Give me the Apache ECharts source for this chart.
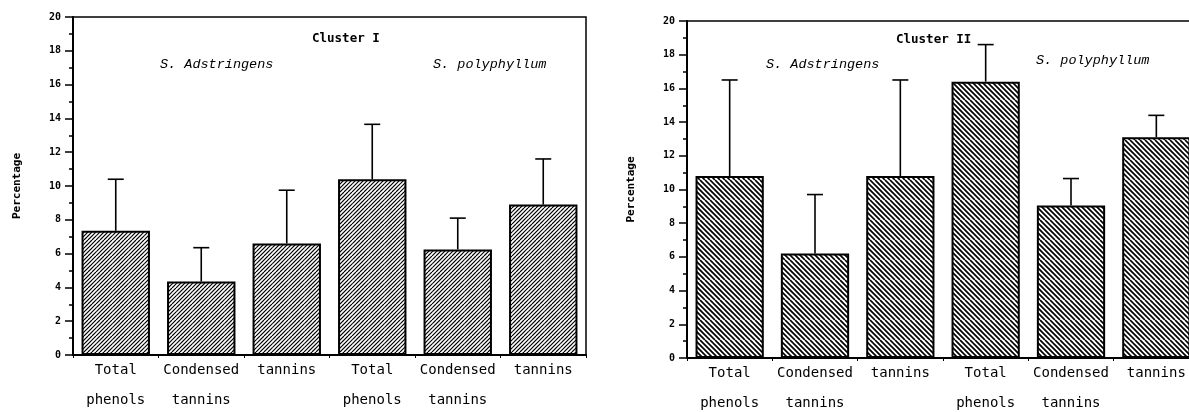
<!DOCTYPE html>
<html>
<head>
<meta charset="utf-8">
<script src="https://cdn.jsdelivr.net/npm/echarts@6/dist/echarts.min.js"></script>
<style>
html,body{margin:0;padding:0;background:#fff;}
#chart{width:1189px;height:412px;}
</style>
</head>
<body>
<div id="chart"></div>
<script>
// ---- data ----
const categories = ['Total\nphenols', 'Condensed\ntannins', 'tannins', 'Total\nphenols', 'Condensed\ntannins', 'tannins'];
const yTicks = { min: 0, max: 20, interval: 2 };
const cluster1Means = [7.35, 4.35, 6.6, 10.4, 6.25, 8.9];
const cluster1SD    = [3.05, 2.0, 3.15, 3.25, 1.85, 2.7];
const cluster2Means = [10.8, 6.2, 10.8, 16.4, 9.05, 13.1];
const cluster2SD    = [5.7, 3.5, 5.7, 2.2, 1.6, 1.3];
const titles = ['Cluster I', 'Cluster II'];
const species = ['S. Adstringens', 'S. polyphyllum'];
const yName = 'Percentage';

// ---- hatch patterns ----
function hatch(size, period, lw, dir) {
  const c = document.createElement('canvas');
  c.width = size; c.height = size;
  const g = c.getContext('2d');
  g.fillStyle = '#fff'; g.fillRect(0, 0, size, size);
  g.strokeStyle = '#000'; g.lineWidth = lw;
  for (let k = -size; k <= 2 * size; k += period) {
    g.beginPath();
    if (dir === '/') { g.moveTo(k, size); g.lineTo(k + size, 0); }
    else { g.moveTo(k, 0); g.lineTo(k + size, size); }
    g.stroke();
  }
  return c;
}
const hatchL = hatch(16, 4, 1.2, '/');
const hatchR = hatch(20, 5, 1.7, '\\');

const chart = echarts.init(document.getElementById('chart'), null, { renderer: 'canvas' });

const monoFont = "'DejaVu Sans Mono', 'Liberation Mono', monospace";

function xAxisCfg(gi) {
  return {
    type: 'category', gridIndex: gi, data: categories, boundaryGap: true,
    axisLine: { show: true, lineStyle: { color: '#000', width: 2 } },
    axisTick: { show: true, length: 3, lineStyle: { color: '#000', width: 1 } },
    axisLabel: { color: '#000', fontFamily: monoFont, fontSize: 14, lineHeight: 30, margin: 0, interval: 0 },
    splitLine: { show: false }
  };
}
function yAxisCfg(gi) {
  return {
    type: 'value', gridIndex: gi, min: yTicks.min, max: yTicks.max, interval: yTicks.interval,
    name: yName, nameLocation: 'middle', nameGap: 50, nameRotate: 90,
    nameTextStyle: { color: '#000', fontFamily: monoFont, fontWeight: 'bold', fontSize: 11 },
    axisLine: { show: true, lineStyle: { color: '#000', width: 2 } },
    axisTick: { show: true, length: 8, lineStyle: { color: '#000', width: 1.5 } },
    minorTick: { show: true, splitNumber: 2, length: 4, lineStyle: { color: '#000', width: 1.5 } },
    axisLabel: { color: '#000', fontFamily: monoFont, fontWeight: 'bold', fontSize: 10, margin: 12 },
    splitLine: { show: false }, minorSplitLine: { show: false }
  };
}
function barSeries(gi, means, pattern) {
  return {
    type: 'bar', xAxisIndex: gi, yAxisIndex: gi, data: means, barWidth: '80%',
    itemStyle: { color: { image: pattern, repeat: 'repeat' }, borderColor: '#000', borderWidth: 2 },
    z: 2
  };
}
function errSeries(gi, means, sd) {
  return {
    type: 'custom', xAxisIndex: gi, yAxisIndex: gi, z: 5,
    data: means.map((m, i) => [i, m, m + sd[i]]),
    renderItem: function (params, api) {
      const p0 = api.coord([api.value(0), api.value(1)]);
      const p1 = api.coord([api.value(0), api.value(2)]);
      const cap = 8;
      const st = { stroke: '#000', lineWidth: 1.6 };
      return {
        type: 'group',
        children: [
          { type: 'line', shape: { x1: p0[0], y1: p0[1], x2: p1[0], y2: p1[1] }, style: st },
          { type: 'line', shape: { x1: p1[0] - cap, y1: p1[1], x2: p1[0] + cap, y2: p1[1] }, style: st }
        ]
      };
    }
  };
}
function txt(x, y, s, font) {
  return { type: 'text', x: x, y: y, style: { text: s, font: font, fill: '#000', textAlign: 'left', textVerticalAlign: 'middle' }, z: 10 };
}
const boldFont = "bold 12.5px 'DejaVu Sans Mono', monospace";
const italFont = "italic 13.5px 'Liberation Mono', 'DejaVu Sans Mono', monospace";

chart.setOption({
  animation: false,
  backgroundColor: '#fff',
  grid: [
    { left: 73, top: 17, width: 513, height: 338, outerBoundsMode: 'none', containLabel: false, show: true, borderColor: '#000', borderWidth: 1.5, backgroundColor: 'transparent' },
    { left: 687, top: 21, width: 512, height: 337, outerBoundsMode: 'none', containLabel: false, show: true, borderColor: '#000', borderWidth: 1.5, backgroundColor: 'transparent' }
  ],
  xAxis: [xAxisCfg(0), xAxisCfg(1)],
  yAxis: [yAxisCfg(0), yAxisCfg(1)],
  series: [
    barSeries(0, cluster1Means, hatchL),
    errSeries(0, cluster1Means, cluster1SD),
    barSeries(1, cluster2Means, hatchR),
    errSeries(1, cluster2Means, cluster2SD)
  ],
  graphic: [
    txt(312, 39, titles[0], boldFont),
    txt(160, 64, species[0], italFont),
    txt(433, 64, species[1], italFont),
    txt(896, 40, titles[1], boldFont),
    txt(766, 64, species[0], italFont),
    txt(1036, 60, species[1], italFont)
  ]
});
</script>
</body>
</html>
